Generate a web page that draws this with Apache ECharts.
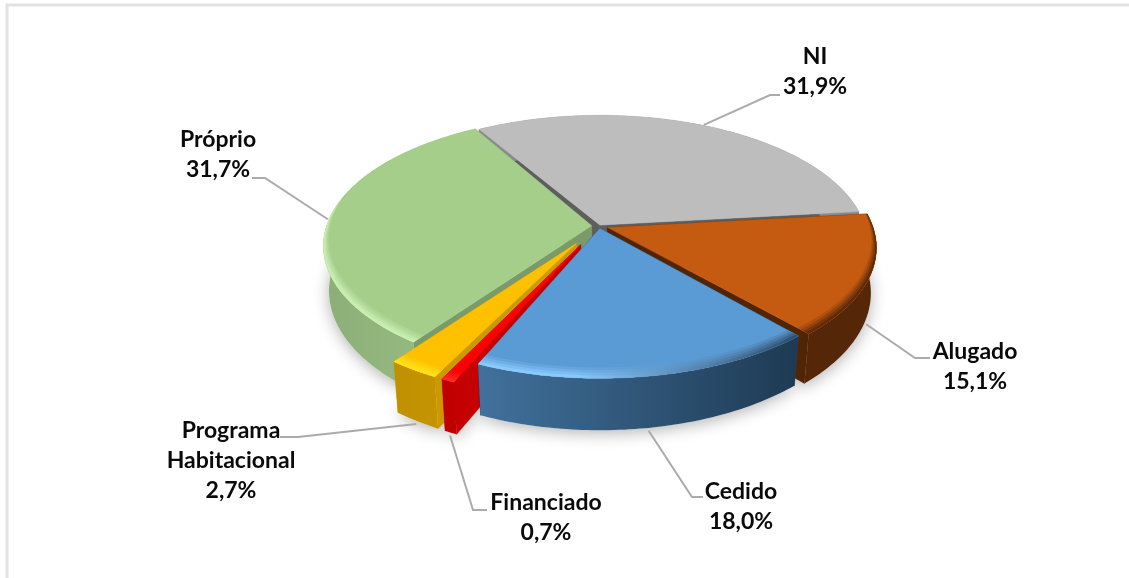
<!DOCTYPE html>
<html><head><meta charset="utf-8">
<style>html,body{margin:0;padding:0;background:#fff}#c{width:1129px;height:578px}</style>
<script src="https://cdn.jsdelivr.net/npm/echarts@6/dist/echarts.min.js"></script>
</head><body><div id="c"></div>
<script>
const categories = ['NI', 'Alugado', 'Cedido', 'Financiado', 'Programa\nHabitacional', 'Próprio'];
const values = [31.9, 15.1, 18.0, 0.7, 2.7, 31.7];

const startAngle = -121;
const explode = [0.008, 0.035, 0.02, 0.16, 0.16, 0.028];
const turn = [0, 0, 0.5, 1, 1.5, 1];
const radiusScale = [1, 1, 1, 0.98, 0.98, 1];
const paintOrder = [0, 5, 1, 4, 3, 2];
const topColors = ['#BDBDBD', '#C55A11', '#5B9BD5', '#FF0000', '#FFC000', '#A6CE8B'];
const rimLeft = ['#BDBDBD', '#5A2907', '#8CCBFF', '#FF2A2A', '#FFE31A', '#CBF0B5'];
const rimRight = ['#BDBDBD', '#5A2907', '#2A4A68', '#FF2A2A', '#FFE31A', '#CBF0B5'];
const cutColors = ['#5E5E5E', '#502507', '#24435F', '#C40000', '#CC9A00', '#7B9A69'];
const wallStops = [
  ['#8A8A8A', '#8A8A8A'], ['#552708', '#552708'], ['#41719C', '#1E3A53'],
  ['#C00000', '#C00000'], ['#BF9000', '#C59400'], ['#8CAF78', '#9CBF87']
];
const labelBoxes = [[815, 72], [975, 367], [741, 507], [546, 518], [231, 461], [218, 155]];
const elbowsA = [[770, 95], [915, 358], [692, 497], [473, 510], [298, 437], [265, 178]];
const elbowsB = [[780, 95], [930, 358], [703, 497], [487, 510], [280, 437], [252, 178]];

const cx = 599, cy = 226, ax = 265, ay = 126.5, k = 0.15, baseScale = 0.98, depth = 44;
const rad = d => d * Math.PI / 180;
const total = values.reduce((a, b) => a + b, 0);
const spans = [];
values.reduce((start, v, i) => { const sp = v / total * 360; spans.push([start + turn[i], start + sp + turn[i]]); return start + sp; }, startAngle);

const top3 = (u, v) => { const w = 1 - k * v; return [cx + ax * u / w, cy + ay * v / w]; };
const bot3 = (u, v) => { const w = 1 - k * v; return [cx + baseScale * ax * u / w, cy + ay * v / w + depth / w]; };

function arc(i, fn, radiusAt, reverse) {
  const [a0, a1] = spans[i], mid = rad((a0 + a1) / 2);
  const ox = explode[i] * Math.cos(mid), oy = explode[i] * Math.sin(mid);
  const n = Math.max(4, Math.ceil(a1 - a0));
  const pts = [];
  for (let s = 0; s <= n; s++) {
    const d = a0 + (a1 - a0) * s / n, r = radiusScale[i] * (radiusAt ? radiusAt(d) : 1);
    pts.push(fn(ox + r * Math.cos(rad(d)), oy + r * Math.sin(rad(d))));
  }
  return reverse ? pts.reverse() : pts;
}
function apex(i, fn) {
  const mid = rad((spans[i][0] + spans[i][1]) / 2);
  return fn(explode[i] * Math.cos(mid), explode[i] * Math.sin(mid));
}
function mix(a, b, t) {
  const p = c => [1, 3, 5].map(j => parseInt(c.substr(j, 2), 16));
  const x = p(a), y = p(b);
  return 'rgb(' + x.map((q, j) => Math.round(q + (y[j] - q) * t)).join(',') + ')';
}
const poly = (points, fill, z2, extra) => ({ type: 'polygon', shape: { points }, style: Object.assign({ fill, stroke: fill, lineWidth: 0.5 }, extra || {}), z2, silent: true });
const hGrad = (a, b, split) => new echarts.graphic.LinearGradient(0, 0, 1, 0, split === undefined
  ? [{ offset: 0, color: a }, { offset: 1, color: b }]
  : [{ offset: 0, color: a }, { offset: split, color: a }, { offset: 1, color: b }]);

function renderSlice(params) {
  const i = params.dataIndex, z = 10 + paintOrder.indexOf(i) * 10, kids = [];
  const topArc = arc(i, top3), botArc = arc(i, bot3);
  const aT = apex(i, top3), aB = apex(i, bot3);
  const topFace = [aT].concat(topArc);
  kids.push(poly([aB].concat(botArc), '#ffffff', 1, { shadowBlur: 16, shadowColor: 'rgba(0,0,0,0.3)', shadowOffsetY: 3, stroke: 'none' }));
  [0, topArc.length - 1].forEach(e => kids.push(poly([aT, topArc[e], botArc[e], aB], cutColors[i], z)));
  const wall = topArc.concat(botArc.slice().reverse());
  // the Alugado wall sits in front of the Cedido wall at their shared corner
  const wallZ = i === 1 ? 61.5 : z + 1;
  kids.push(poly(wall, hGrad(wallStops[i][0], wallStops[i][1]), wallZ, { stroke: 'none' }));
  kids.push(poly(topFace, topColors[i], i === 1 ? 62 : z + 2));
  const bevel = d => Math.max(0, 0.012 + 0.05 * Math.sin(rad(d)));
  if (rimLeft[i] !== topColors[i]) {
    [1, 0.75, 0.5, 0.25].forEach((f, b) => {
      const inner = arc(i, top3, d => 1 - bevel(d) * f, true);
      const t = Math.min(1, 1.2 - f);
      kids.push(poly(topArc.concat(inner), hGrad(mix(topColors[i], rimLeft[i], t), mix(topColors[i], rimRight[i], t), 0.3), (i === 1 ? 63 : z + 3) + b * 0.1, { stroke: 'none' }));
    });
  }
  const mid = (spans[i][0] + spans[i][1]) / 2;
  const back = Math.sin(rad(mid)) < 0;
  const ox = explode[i] * Math.cos(rad(mid)), oy = explode[i] * Math.sin(rad(mid));
  const rr = radiusScale[i] * 1.005;
  const anchor = (back ? top3 : bot3)(ox + rr * Math.cos(rad(mid)), oy + rr * Math.sin(rad(mid)));
  anchor[1] += back ? 0 : 2;
  kids.push({ type: 'polyline', shape: { points: [anchor, elbowsA[i], elbowsB[i]] }, style: { stroke: '#ABABAB', lineWidth: 2, fill: 'none' }, z2: 100, silent: true });
  const txt = categories[i] + '\n' + values[i].toFixed(1).replace('.', ',') + '%';
  kids.push({ type: 'text', x: labelBoxes[i][0], y: labelBoxes[i][1], style: { text: txt, align: 'center', verticalAlign: 'middle', fill: '#0a0a0a', font: 'bold 23px Lato', lineHeight: 30 }, z2: 101, silent: true });
  return { type: 'group', children: kids };
}

const chart = echarts.init(document.getElementById('c'), null, { renderer: 'canvas' });
chart.setOption({
  animation: false,
  backgroundColor: '#fff',
  graphic: { elements: [
    { type: 'polyline', shape: { points: [[7, 578], [7, 5], [1129, 5]] }, style: { stroke: '#E2E2E2', lineWidth: 3, fill: 'none' }, silent: true }
  ]},
  series: [{
    type: 'custom', coordinateSystem: 'none', clip: false,
    data: categories.map((c, i) => ({ name: c, value: [values[i]] })),
    renderItem: renderSlice
  }]
});
</script></body></html>
